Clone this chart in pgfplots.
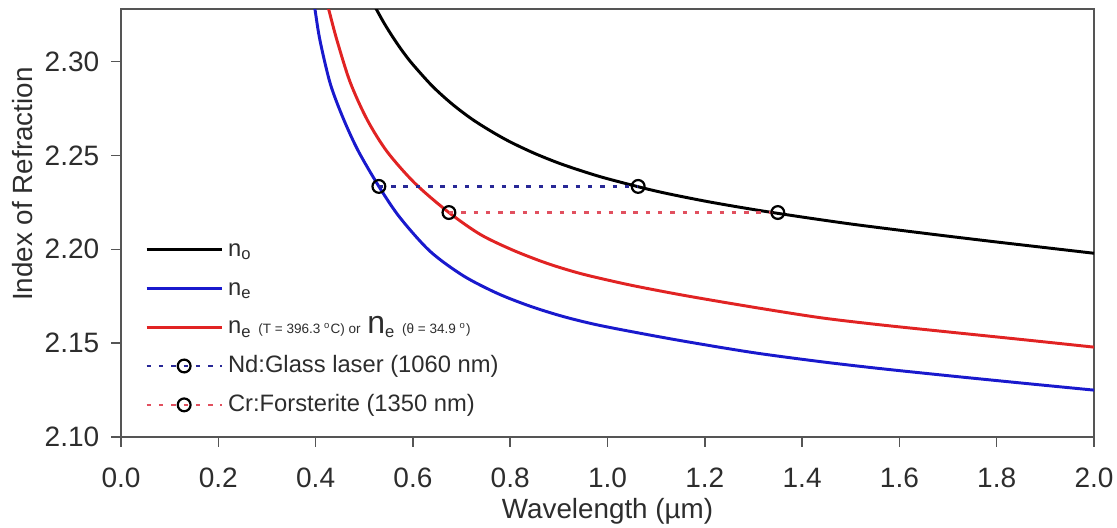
\documentclass[border=0pt]{standalone}
\usepackage{pgfplots}
\pgfplotsset{compat=1.18}
\usepackage{fontspec}
\setmainfont{Liberation Sans}
\definecolor{framegray}{RGB}{85,85,85}
\definecolor{txtgray}{RGB}{45,45,45}
\definecolor{cblue}{RGB}{25,25,205}
\definecolor{cred}{RGB}{225,35,35}
\definecolor{dblue}{RGB}{40,40,150}
\definecolor{dred}{RGB}{225,80,95}
\begin{document}
\begin{tikzpicture}
\begin{axis}[
  scale only axis, width=395.5pt, height=174pt,
  xmin=0, xmax=2.0, ymin=2.10, ymax=2.328,
  xtick={0,0.2,0.4,0.6,0.8,1.0,1.2,1.4,1.6,1.8,2.0},
  ytick={2.10,2.15,2.20,2.25,2.30},
  xtick pos=bottom, ytick pos=left,
  tick align=outside, major tick length=4pt,
  tick style={framegray, line width=0.6pt},
  axis line style={framegray, line width=0.8pt},
  /pgf/number format/assume math mode=true,
  xticklabel style={/tikz/yshift=-5pt, /pgf/number format/.cd, fixed, fixed zerofill, precision=1},
  yticklabel style={/tikz/xshift=-1.3pt, /pgf/number format/.cd, fixed, fixed zerofill, precision=2},
  ticklabel style={font=\fontsize{11.4}{13}\selectfont, text=txtgray},
  xlabel={Wavelength (µm)}, ylabel={Index of Refraction},
  label style={font=\fontsize{11.3}{13}\selectfont, text=txtgray},
  x label style={at={(axis description cs:0.5,0)}, anchor=center, yshift=-30pt},
  y label style={at={(axis description cs:-0.101,0.591)}, anchor=center},
  legend cell align=left,
  legend style={draw=none, fill=none, at={(0.0243,0.0324)}, anchor=south west,
    font=\fontsize{9.65}{11}\selectfont, text=txtgray, row sep=1.3pt,
    inner sep=0pt, nodes={text height=8pt, text depth=2.5pt}},
  legend image code/.code={\draw[mark repeat=2,mark phase=2,#1] plot coordinates {(0pt,0pt) (15.25pt,0pt) (30.5pt,0pt)};},
]
\addplot[black, line width=1.2pt, smooth] coordinates {
(0.515,2.3328) (0.52,2.3302) (0.54,2.3208) (0.56,2.3125) (0.58,2.3050) (0.60,2.2984) (0.64,2.2869) (0.68,2.2775) (0.72,2.2696) (0.76,2.2630) (0.80,2.2572) (0.85,2.2511) (0.90,2.2459) (0.95,2.2415) (1.00,2.2376) (1.10,2.2310) (1.20,2.2257) (1.30,2.2212) (1.40,2.2172) (1.50,2.2135) (1.60,2.2102) (1.70,2.2070) (1.80,2.2039) (1.90,2.2009) (2.00,2.1979)};
\addlegendentry{n\textsubscript{o}}
\addplot[cblue, line width=1.2pt, smooth] coordinates {
(0.396,2.3320) (0.399,2.3272) (0.409,2.3112) (0.430,2.2883) (0.456,2.2702) (0.487,2.2527) (0.530,2.2335) (0.573,2.2170) (0.635,2.1990) (0.703,2.1860) (0.773,2.1766) (0.841,2.1697) (0.909,2.1642) (0.978,2.1598) (1.067,2.1553) (1.163,2.1508) (1.299,2.1450) (1.437,2.1402) (1.560,2.1365) (1.700,2.1327) (1.850,2.1288) (2.000,2.1250)};
\addlegendentry{n\textsubscript{e}}
\addplot[cred, line width=1.2pt, smooth] coordinates {
(0.424,2.3310) (0.4275,2.3272) (0.444,2.3112) (0.471,2.2890) (0.506,2.2690) (0.547,2.2520) (0.604,2.2352) (0.672,2.2200) (0.738,2.2080) (0.806,2.1995) (0.876,2.1925) (0.943,2.1872) (1.011,2.1830) (1.067,2.1799) (1.163,2.1752) (1.299,2.1692) (1.437,2.1636) (1.560,2.1598) (1.700,2.1560) (1.850,2.1520) (2.000,2.1479)};
\addlegendentry{n\textsubscript{e} {\fontsize{5.5}{6}\selectfont (T = 396.3 \textsuperscript{o}C) or} {\fontsize{13}{14}\selectfont n}\textsubscript{e} {\fontsize{5.5}{6}\selectfont (θ = 34.9 \textsuperscript{o})}}
\addplot[dblue, line width=1pt, dash pattern=on 1.8pt off 3.2pt, mark=o, mark size=2.6pt, mark options={solid, black, fill=white, line width=0.9pt}] coordinates {(0.530,2.2335) (1.063,2.2335)};
\addlegendentry{Nd:Glass laser (1060 nm)}
\addplot[dred, line width=1pt, dash pattern=on 1.8pt off 3.2pt, mark=o, mark size=2.6pt, mark options={solid, black, fill=white, line width=0.9pt}] coordinates {(0.674,2.2196) (1.350,2.2196)};
\addlegendentry{Cr:Forsterite (1350 nm)}
\end{axis}
\pgfresetboundingbox
\path ([xshift=-49.2pt,yshift=-36.6pt]current axis.south west) rectangle ([xshift=9.35pt,yshift=3.66pt]current axis.north east);
\end{tikzpicture}
\end{document}
